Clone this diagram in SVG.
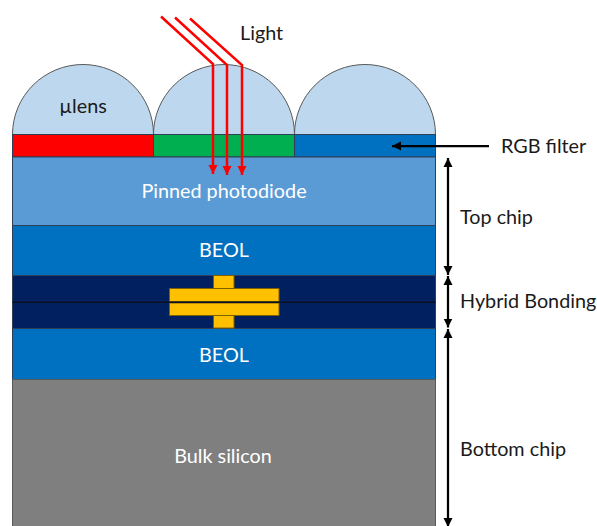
<svg xmlns="http://www.w3.org/2000/svg" width="597" height="526" viewBox="0 0 597 526">
<style>
text{font-family:"Lato","Open Sans",sans-serif;font-size:19.800px}
.w{fill:#fff;text-anchor:middle}
.k{fill:#1a1a1a}
.lens{fill:#bdd7ee;stroke:#595959;stroke-width:1}
.layer{stroke:#2f3f55;stroke-width:1}
.pad{fill:#ffc000;stroke:#7f6000;stroke-width:1}
.red{fill:none;stroke:#ff0000;stroke-width:2.500}
.blk{fill:none;stroke:#000;stroke-width:2.250}
</style>
<defs>
<marker id="ar" markerUnits="userSpaceOnUse" markerWidth="10" markerHeight="10" refX="9" refY="5" orient="auto"><path d="M0 0.500L9 5L0 9.500z" fill="#ff0000"/></marker>
<marker id="ab" markerUnits="userSpaceOnUse" markerWidth="10" markerHeight="10" refX="9" refY="5" orient="auto-start-reverse"><path d="M0 0.500L9 5L0 9.500z" fill="#000"/></marker>
</defs>
<rect width="597" height="526" fill="#fff"/>
<g id="lens1"><path class="lens" d="M12.500 134.500A70.500 70 0 0 1 153.500 134.500z"/><text class="k" x="83" y="113" text-anchor="middle">µlens</text></g>
<g id="lens2"><path class="lens" d="M153.500 134.500A70.500 70 0 0 1 294.500 134.500z"/></g>
<g id="lens3"><path class="lens" d="M294.500 134.500A70.500 70 0 0 1 435.500 134.500z"/></g>
<g id="filter-red"><rect class="layer" x="12.500" y="134.500" width="141" height="22.500" fill="#ff0000"/></g>
<g id="filter-green"><rect class="layer" x="153.500" y="134.500" width="141" height="22.500" fill="#00b050"/></g>
<g id="filter-blue"><rect class="layer" x="294.500" y="134.500" width="141" height="22.500" fill="#0070c0"/></g>
<g id="photodiode"><rect class="layer" x="12.500" y="157" width="423" height="68.500" fill="#5b9bd5"/><text class="w" x="224" y="198">Pinned photodiode</text></g>
<g id="beol-top"><rect class="layer" x="12.500" y="225.500" width="423" height="50" fill="#0070c0"/><text class="w" x="224" y="257">BEOL</text></g>
<g id="bond-top"><rect class="layer" x="12.500" y="275.500" width="423" height="27" fill="#002060"/></g>
<g id="bond-bottom"><rect class="layer" x="12.500" y="302.500" width="423" height="26" fill="#002060"/></g>
<g id="beol-bottom"><rect class="layer" x="12.500" y="328.500" width="423" height="51" fill="#0070c0"/><text class="w" x="224" y="362">BEOL</text></g>
<g id="bulk"><rect x="12.500" y="379.500" width="423" height="147" fill="#7f7f7f" stroke="#595959"/><text class="w" x="223" y="463">Bulk silicon</text></g>
<g id="bond-pads">
<rect class="pad" x="213.500" y="275.500" width="20.500" height="13"/>
<rect class="pad" x="169.500" y="288.500" width="109.500" height="13"/>
<rect class="pad" x="169.500" y="303" width="109.500" height="12.500"/>
<rect class="pad" x="213.500" y="315.500" width="20.500" height="12.500"/>
<path d="M12.500 302.200H435.500" stroke="#0b1020" stroke-width="1.500"/>
</g>
<g id="connectors">
<path class="red" marker-end="url(#ar)" d="M161 16.500L213 64V174"/>
<path class="red" marker-end="url(#ar)" d="M175 17.500L227 65V175"/>
<path class="red" marker-end="url(#ar)" d="M190 18.500L242 65V175"/>
<path class="blk" marker-end="url(#ab)" d="M489 146H392"/>
<path class="blk" marker-start="url(#ab)" marker-end="url(#ab)" d="M448 158V275"/>
<path class="blk" marker-start="url(#ab)" marker-end="url(#ab)" d="M448 276V327.500"/>
<path class="blk" marker-start="url(#ab)" marker-end="url(#ab)" d="M448 329V527"/>
</g>
<g id="labels">
<text class="k" x="240" y="40">Light</text>
<text class="k" x="501" y="153">RGB filter</text>
<text class="k" x="460" y="224">Top chip</text>
<text class="k" x="460" y="308">Hybrid Bonding</text>
<text class="k" x="460" y="456">Bottom chip</text>
</g>
</svg>
